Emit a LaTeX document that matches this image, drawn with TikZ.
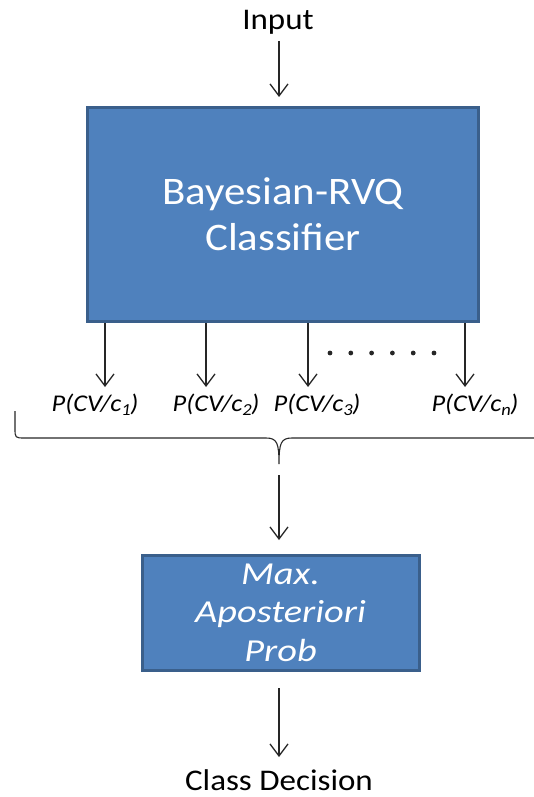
\documentclass[tikz,border=0pt]{standalone}
\usepackage{fontspec}
\setmainfont{Carlito}[FakeStretch=1.1]
\newfontfamily\widefont{Carlito}[FakeStretch=1.2]
\usetikzlibrary{arrows.meta}
\definecolor{boxfill}{HTML}{4F81BD}
\definecolor{boxedge}{HTML}{3A5F8B}
\definecolor{ink}{HTML}{262626}
\tikzset{
  block/.style={draw=boxedge, line width=3pt, fill=boxfill, text=white, align=center, inner sep=0pt},
  flow/.style={draw=ink, line width=1.3pt, -{Straight Barb[length=12pt,width=18pt,line width=1.3pt]}},
  plain/.style={text=black, inner sep=0pt},
  prob/.style={text=black, inner sep=0pt, font=\fontsize{24}{28}\selectfont\itshape},
}
\begin{document}
\begin{tikzpicture}[x=1pt,y=-1pt]
  \useasboundingbox (0,0) rectangle (534,797);
  \clip (0,0) rectangle (534,797);

  % input label and classifier block
  \node[plain, font=\fontsize{30}{32}\selectfont] (in) at (278,22) {Input};
  \node[block, minimum width=391pt, minimum height=214pt,
        font=\fontsize{39}{46}\selectfont] (clf) at (283,214.5) {Bayesian-RVQ\\Classifier};
  \coordinate (inStart) at (279,41);
  \coordinate (inEnd) at (279,97);
  \draw[flow] (inStart) -- (inEnd);

  % class-conditional outputs
  \foreach \i/\x/\lx/\sub in {1/105/95/1, 2/206/216/2, 3/308/317/3, 4/465/475/n} {
    \coordinate (tip\i) at (\x,387);
    \draw[flow] (clf.south -| tip\i) -- (tip\i);
    \node[prob] (p\i) at (\lx,405) {P(CV/c$_{\mathit{\sub}}$)};
  }
  \foreach \k in {0,...,5} {
    \fill[ink] (330+\k*20.8,353) circle (2.4pt);
  }

  % brace gathering the outputs
  \coordinate (bl) at (15,411);
  \coordinate (bm) at (279,464);
  \coordinate (br) at (543,411);
  \draw[ink, line width=1.1pt]
    (bl) -- (15,428) .. controls (15,438) .. (25,438) -- (266,438)
    .. controls (277,438) and (279,443) .. (bm)
    .. controls (279,443) and (281,438) .. (292,438) -- (533,438)
    .. controls (543,438) .. (543,428) -- (br);

  % decision block
  \node[block, minimum width=277pt, minimum height=115pt,
        font=\widefont\fontsize{32}{38.5}\selectfont\itshape] (map) at (280.5,612.5) {Max.\\Aposteriori\\Prob};
  \coordinate (brOut) at (279,475);
  \coordinate (mapIn) at (279,540);
  \draw[flow] (brOut) -- (mapIn);

  \node[plain, font=\fontsize{30}{32}\selectfont] (out) at (279,780) {Class Decision};
  \coordinate (outStart) at (279,688);
  \coordinate (outEnd) at (279,757);
  \draw[flow] (outStart) -- (outEnd);
\end{tikzpicture}
\end{document}
